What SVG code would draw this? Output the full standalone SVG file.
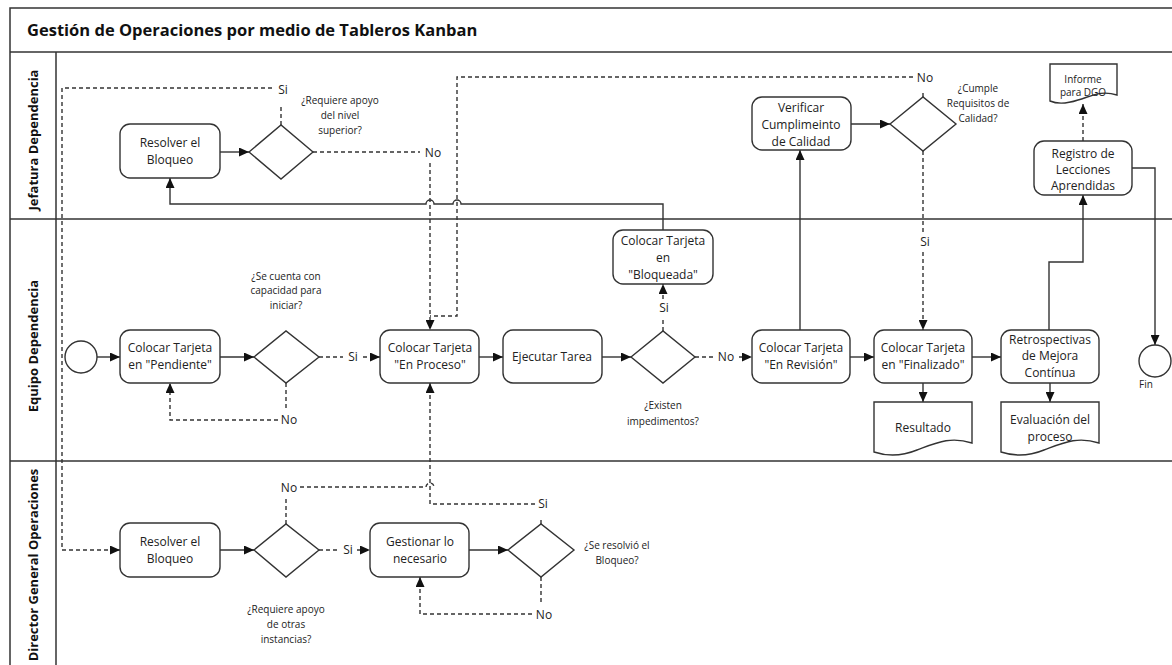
<svg xmlns="http://www.w3.org/2000/svg" width="1172" height="665" viewBox="0 0 1172 665">
  <defs>
    <style>
      .frame { fill: none; stroke: #333; stroke-width: 1.5; }
      .box { fill: #fff; stroke: #333; stroke-width: 1.4; }
      .ln { fill: none; stroke: #333; stroke-width: 1.4; }
      .dash { stroke-dasharray: 4 3; }
      .t { font-family: "Open Sans", "Noto Sans", sans-serif; font-size: 12px; fill: #222; text-anchor: middle; }
      .q { font-size: 10px; }
      .lane { font-family: "Open Sans", "Noto Sans", sans-serif; font-size: 13px; font-weight: bold; fill: #111; text-anchor: middle; }
      .title { font-family: "Open Sans", "Noto Sans", sans-serif; font-size: 16.5px; font-weight: bold; fill: #111; }
    </style>
    <marker id="arr" markerWidth="10" markerHeight="9" refX="10" refY="4.5" orient="auto" markerUnits="userSpaceOnUse">
      <path d="M0,0 L10,4.5 L0,9 z" fill="#111"/>
    </marker>
  </defs>

  <rect width="1172" height="665" fill="#fff"/>

  <!-- pool frame, title bar and lanes -->
  <g id="pool">
    <rect class="frame" x="10" y="8" width="1180" height="680"/>
    <line class="frame" x1="10" y1="52" x2="1172" y2="52"/>
    <line class="frame" x1="56" y1="52" x2="56" y2="665"/>
    <line class="frame" x1="10" y1="219" x2="1172" y2="219"/>
    <line class="frame" x1="10" y1="461" x2="1172" y2="461"/>
    <text class="title" x="27" y="36">Gestión de Operaciones por medio de Tableros Kanban</text>
    <text class="lane" transform="translate(38,140) rotate(-90)">Jefatura Dependencia</text>
    <text class="lane" transform="translate(38,346) rotate(-90)">Equipo Dependencia</text>
    <text class="lane" transform="translate(38,565) rotate(-90)">Director General Operaciones</text>
  </g>

  <!-- connectors -->
  <g id="connectors">
    <!-- solid flows -->
    <path class="ln" d="M97,357 H120" marker-end="url(#arr)"/>
    <path class="ln" d="M220,357 H254" marker-end="url(#arr)"/>
    <path class="ln" d="M479,357 H503" marker-end="url(#arr)"/>
    <path class="ln" d="M602,357 H631" marker-end="url(#arr)"/>
    <path class="ln" d="M850,357 H874" marker-end="url(#arr)"/>
    <path class="ln" d="M972,357 H1001" marker-end="url(#arr)"/>
    <path class="ln" d="M923,383 V402" marker-end="url(#arr)"/>
    <path class="ln" d="M1050,383 V402" marker-end="url(#arr)"/>
    <path class="ln" d="M220,152 H249" marker-end="url(#arr)"/>
    <path class="ln" d="M851,124 H890" marker-end="url(#arr)"/>
    <path class="ln" d="M800,330 V150" marker-end="url(#arr)"/>
    <path class="ln" d="M1049,330 V262 H1083 V195" marker-end="url(#arr)"/>
    <path class="ln" d="M1132,168 H1155 V345" marker-end="url(#arr)"/>
    <path class="ln" d="M663,230 V204 H461 A4,4 0 0 0 453,204 H434 A4,4 0 0 0 426,204 H170 V178" marker-end="url(#arr)"/>
    <path class="ln" d="M220,550 H254" marker-end="url(#arr)"/>
    <path class="ln" d="M469,550 H508" marker-end="url(#arr)"/>

    <!-- Jefatura decision: Si -> Director, No -> En Proceso -->
    <path class="ln dash" d="M281,125 V104"/>
    <path class="ln dash" d="M272,88 H62 V550 H120" marker-end="url(#arr)"/>
    <text class="t" x="283" y="94">Si</text>
    <path class="ln dash" d="M313,152 H420"/>
    <text class="t" x="433" y="157">No</text>
    <path class="ln dash" d="M430,163 V330" marker-end="url(#arr)"/>

    <!-- quality decision: No -> back to En Proceso, Si -> Finalizado -->
    <path class="ln dash" d="M923,97 V90"/>
    <text class="t" x="925" y="82">No</text>
    <path class="ln dash" d="M913,77 H457 V316 H430"/>
    <path class="ln dash" d="M923,151 V232"/>
    <text class="t" x="925" y="246">Si</text>
    <path class="ln dash" d="M923,252 V330" marker-end="url(#arr)"/>

    <!-- capacity decision -->
    <path class="ln dash" d="M319,357 H343"/>
    <text class="t" x="353" y="361">Si</text>
    <path class="ln dash" d="M363,357 H380" marker-end="url(#arr)"/>
    <path class="ln dash" d="M286,383 V410"/>
    <text class="t" x="289" y="424">No</text>
    <path class="ln dash" d="M278,420 H170 V383" marker-end="url(#arr)"/>

    <!-- impediments decision -->
    <path class="ln dash" d="M663,331 V318"/>
    <text class="t" x="664" y="312">Si</text>
    <path class="ln dash" d="M663,299 V284" marker-end="url(#arr)"/>
    <path class="ln dash" d="M695,357 H713"/>
    <text class="t" x="726" y="361">No</text>
    <path class="ln dash" d="M739,357 H752" marker-end="url(#arr)"/>

    <!-- report for DGO -->
    <path class="ln dash" d="M1083,141 V104" marker-end="url(#arr)"/>

    <!-- Director decisions -->
    <path class="ln dash" d="M319,550 H340"/>
    <text class="t" x="348" y="554">Si</text>
    <path class="ln dash" d="M357,550 H370" marker-end="url(#arr)"/>
    <path class="ln dash" d="M286,524 V497"/>
    <text class="t" x="289" y="492">No</text>
    <path class="ln dash" d="M300,487 H426 A4,4 0 0 1 434,487"/>
    <path class="ln dash" d="M541,524 V517"/>
    <text class="t" x="543" y="508">Si</text>
    <path class="ln dash" d="M535,504 H430 V383" marker-end="url(#arr)"/>
    <path class="ln dash" d="M541,577 V603"/>
    <text class="t" x="544" y="619">No</text>
    <path class="ln dash" d="M532,614 H420 V577" marker-end="url(#arr)"/>
  </g>

  <!-- Jefatura Dependencia lane -->
  <g id="j-resolver">
    <rect class="box" x="120" y="124" width="100" height="54" rx="10"/>
    <text class="t" x="170" y="147">Resolver el</text>
    <text class="t" x="170" y="164">Bloqueo</text>
  </g>
  <g id="j-decision-apoyo">
    <polygon class="box" points="249,152 281,125 313,152 281,179"/>
    <text class="t q" x="340" y="104">¿Requiere apoyo</text>
    <text class="t q" x="340" y="119">del nivel</text>
    <text class="t q" x="340" y="134">superior?</text>
  </g>
  <g id="j-verificar">
    <rect class="box" x="752" y="97" width="99" height="53" rx="10"/>
    <text class="t" x="801" y="112">Verificar</text>
    <text class="t" x="801" y="129">Cumplimeinto</text>
    <text class="t" x="801" y="146">de Calidad</text>
  </g>
  <g id="j-decision-calidad">
    <polygon class="box" points="890,124 923,97 956,124 923,151"/>
    <text class="t q" x="978" y="92">¿Cumple</text>
    <text class="t q" x="978" y="107">Requisitos de</text>
    <text class="t q" x="978" y="122">Calidad?</text>
  </g>
  <g id="j-registro">
    <rect class="box" x="1034" y="141" width="98" height="54" rx="10"/>
    <text class="t" x="1083" y="158">Registro de</text>
    <text class="t" x="1083" y="174">Lecciones</text>
    <text class="t" x="1083" y="190">Aprendidas</text>
  </g>
  <g id="j-informe">
    <path class="box" d="M1050,64 H1117 V95 C1101,90 1092,96 1078,100 C1066,104 1057,104 1050,101 Z"/>
    <text class="t q" x="1083" y="83">Informe</text>
    <text class="t q" x="1083" y="96">para DGO</text>
  </g>

  <!-- Equipo Dependencia lane -->
  <g id="e-inicio">
    <circle class="box" cx="81" cy="357" r="16"/>
  </g>
  <g id="e-pendiente">
    <rect class="box" x="120" y="330" width="100" height="53" rx="10"/>
    <text class="t" x="170" y="352">Colocar Tarjeta</text>
    <text class="t" x="170" y="369">en "Pendiente"</text>
  </g>
  <g id="e-decision-capacidad">
    <polygon class="box" points="254,357 286,331 319,357 286,383"/>
    <text class="t q" x="286" y="280">¿Se cuenta con</text>
    <text class="t q" x="286" y="294">capacidad para</text>
    <text class="t q" x="286" y="309">iniciar?</text>
  </g>
  <g id="e-en-proceso">
    <rect class="box" x="380" y="330" width="99" height="53" rx="10"/>
    <text class="t" x="430" y="352">Colocar Tarjeta</text>
    <text class="t" x="430" y="369">"En Proceso"</text>
  </g>
  <g id="e-ejecutar">
    <rect class="box" x="503" y="330" width="99" height="53" rx="10"/>
    <text class="t" x="552" y="361">Ejecutar Tarea</text>
  </g>
  <g id="e-decision-impedimentos">
    <polygon class="box" points="631,357 663,331 695,357 663,383"/>
    <text class="t q" x="663" y="409">¿Existen</text>
    <text class="t q" x="663" y="425">impedimentos?</text>
  </g>
  <g id="e-bloqueada">
    <rect class="box" x="613" y="230" width="100" height="54" rx="10"/>
    <text class="t" x="663" y="245">Colocar Tarjeta</text>
    <text class="t" x="663" y="262">en</text>
    <text class="t" x="663" y="279">"Bloqueada"</text>
  </g>
  <g id="e-en-revision">
    <rect class="box" x="752" y="330" width="98" height="53" rx="10"/>
    <text class="t" x="801" y="352">Colocar Tarjeta</text>
    <text class="t" x="801" y="369">"En Revisión"</text>
  </g>
  <g id="e-finalizado">
    <rect class="box" x="874" y="330" width="98" height="53" rx="10"/>
    <text class="t" x="923" y="352">Colocar Tarjeta</text>
    <text class="t" x="923" y="369">en "Finalizado"</text>
  </g>
  <g id="e-resultado">
    <path class="box" d="M874,402 H972 V443 C950,436 936,443 917,450 C900,457 886,456 874,452 Z"/>
    <text class="t" x="923" y="432">Resultado</text>
  </g>
  <g id="e-retrospectivas">
    <rect class="box" x="1001" y="330" width="98" height="53" rx="10"/>
    <text class="t" x="1050" y="344">Retrospectivas</text>
    <text class="t" x="1050" y="360">de Mejora</text>
    <text class="t" x="1050" y="377">Contínua</text>
  </g>
  <g id="e-evaluacion">
    <path class="box" d="M1001,402 H1099 V443 C1077,436 1063,443 1044,450 C1027,457 1013,456 1001,452 Z"/>
    <text class="t" x="1050" y="424">Evaluación del</text>
    <text class="t" x="1050" y="441">proceso</text>
  </g>
  <g id="e-fin">
    <circle class="box" cx="1155" cy="361" r="16"/>
    <text class="t q" x="1146" y="388">Fin</text>
  </g>

  <!-- Director General Operaciones lane -->
  <g id="d-resolver">
    <rect class="box" x="120" y="523" width="100" height="54" rx="10"/>
    <text class="t" x="170" y="546">Resolver el</text>
    <text class="t" x="170" y="563">Bloqueo</text>
  </g>
  <g id="d-decision-instancias">
    <polygon class="box" points="254,550 286,524 319,550 286,577"/>
    <text class="t q" x="286" y="613">¿Requiere apoyo</text>
    <text class="t q" x="286" y="628">de otras</text>
    <text class="t q" x="286" y="643">instancias?</text>
  </g>
  <g id="d-gestionar">
    <rect class="box" x="370" y="523" width="99" height="54" rx="10"/>
    <text class="t" x="420" y="546">Gestionar lo</text>
    <text class="t" x="420" y="563">necesario</text>
  </g>
  <g id="d-decision-resuelto">
    <polygon class="box" points="508,550 541,524 574,550 541,577"/>
    <text class="t q" x="617" y="549">¿Se resolvió el</text>
    <text class="t q" x="617" y="564">Bloqueo?</text>
  </g>
</svg>
